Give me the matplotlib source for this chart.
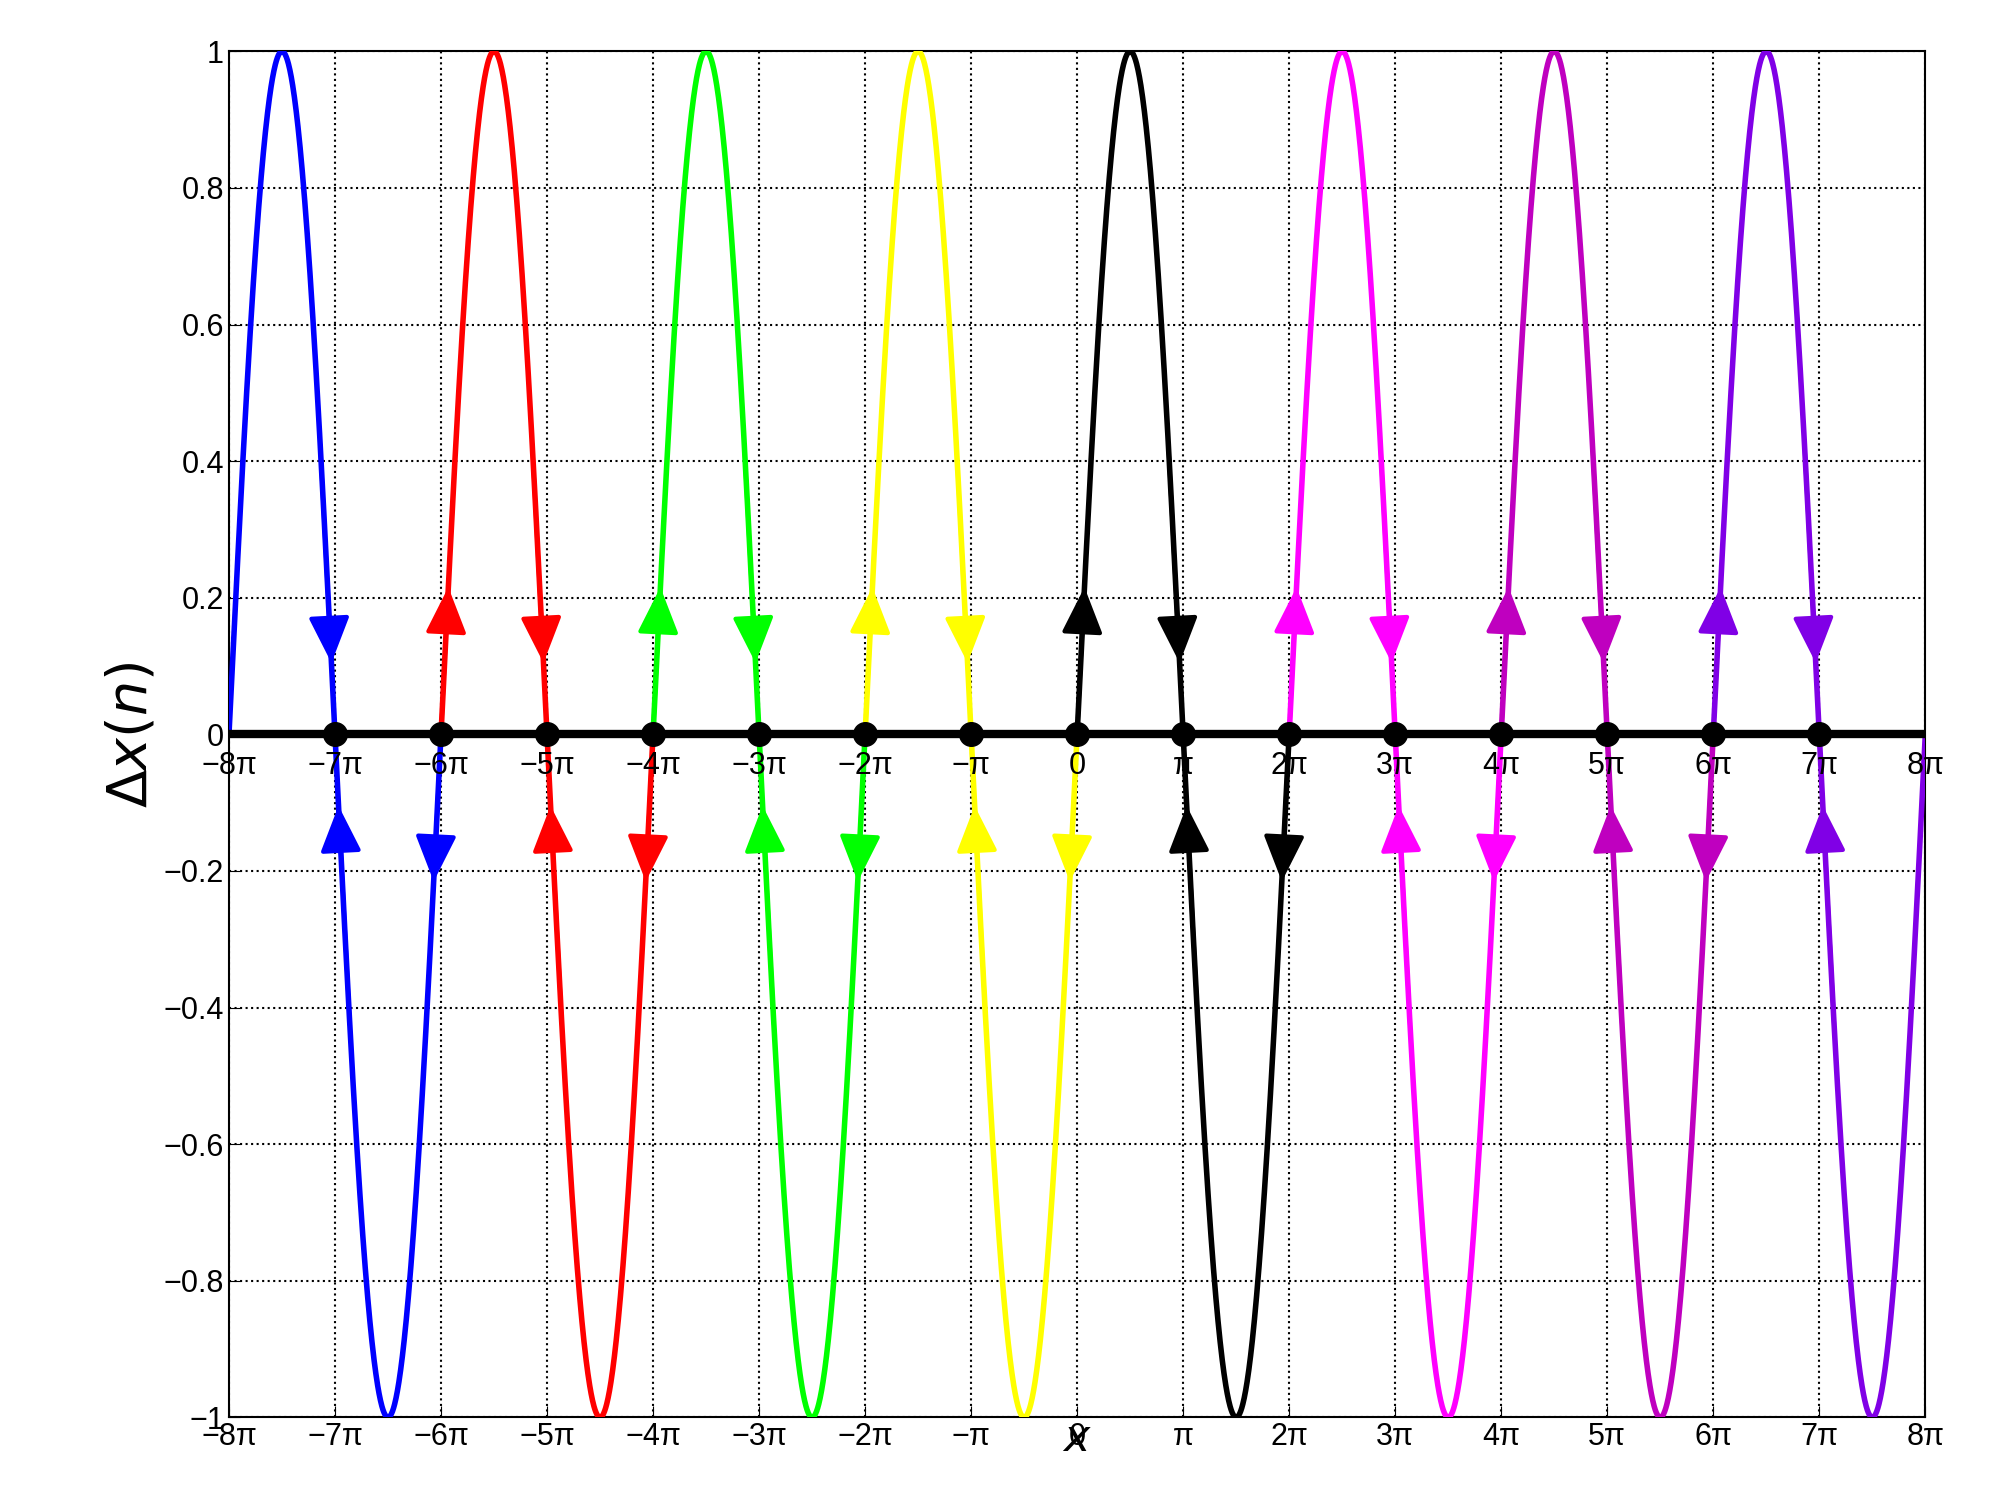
import numpy as np
import matplotlib.pyplot as plt
from matplotlib.patches import FancyArrowPatch

plt.rcParams['font.family'] = ['Liberation Sans', 'DejaVu Sans']

segment_starts = [-8, -6, -4, -2, 0, 2, 4, 6]  # in units of pi, each segment spans 2 pi
colors = ['#0000ff', '#ff0000', '#00ff00', '#ffff00', '#000000', '#ff00ff', '#bf00bf', '#8000e6']
zero_points = list(range(-7, 8))  # multiples of pi
tick_labels = ['\u22128\u03c0', '\u22127\u03c0', '\u22126\u03c0', '\u22125\u03c0', '\u22124\u03c0',
               '\u22123\u03c0', '\u22122\u03c0', '\u2212\u03c0', '0', '\u03c0', '2\u03c0', '3\u03c0',
               '4\u03c0', '5\u03c0', '6\u03c0', '7\u03c0', '8\u03c0']
yticks = [-1, -0.8, -0.6, -0.4, -0.2, 0, 0.2, 0.4, 0.6, 0.8, 1]
ytick_labels = ['\u22121', '\u22120.8', '\u22120.6', '\u22120.4', '\u22120.2', '0', '0.2', '0.4', '0.6', '0.8', '1']

fig = plt.figure(figsize=(19.91, 15.11), dpi=100)
ax = fig.add_axes([0.115, 0.062, 0.852, 0.904])

for s, c in zip(segment_starts, colors):
    x = np.linspace(s * np.pi, (s + 2) * np.pi, 600)
    ax.plot(x, np.sin(x), color=c, lw=4, zorder=3)

def color_at(xv):
    idx = int(np.floor(xv / (2 * np.pi))) + 4
    idx = min(max(idx, 0), 7)
    return colors[idx]

def arrow(x0, x1, c):
    a = FancyArrowPatch((x0, np.sin(x0)), (x1, np.sin(x1)),
                        arrowstyle='-|>,head_length=0.9,head_width=0.4',
                        mutation_scale=32, color=c, lw=3, zorder=4)
    ax.add_patch(a)

d = np.arcsin(0.2)
for k in zero_points:
    z = k * np.pi
    if k % 2 == 0:  # unstable: arrows point away
        arrow(z + 0.02, z + d + 0.02, color_at(z + 0.1))
        arrow(z - 0.02, z - d - 0.02, color_at(z - 0.1))
    else:  # stable: arrows point toward
        arrow(z - 2.2 * d, z - d * 0.5, color_at(z - 0.1))
        arrow(z + 2.2 * d, z + d * 0.5, color_at(z + 0.1))

ax.axhline(0, color='k', lw=6, zorder=5)
ax.plot(np.array(zero_points) * np.pi, np.zeros(len(zero_points)), 'o', color='k',
        markersize=17, zorder=6)

xt = np.arange(-8, 9) * np.pi
ax.set_xlim(-8 * np.pi, 8 * np.pi)
ax.set_ylim(-1, 1)
ax.set_xticks(xt)
ax.set_xticklabels(tick_labels, fontsize=22)
ax.set_yticks(yticks)
ax.set_yticklabels(ytick_labels, fontsize=22)
for xv, lab in zip(xt, tick_labels):
    ax.text(xv, -0.025, lab, ha='center', va='top', fontsize=22, zorder=7)
ax.grid(True, color='k', linestyle=':', lw=1.5)
ax.tick_params(direction='in', length=8)
for sp in ax.spines.values():
    sp.set_linewidth(1.5)
ax.set_ylabel('$\\Delta x(n)$', fontsize=40)
ax.set_xlabel('$x$', fontsize=32, labelpad=-24)

fig.savefig('out.png', dpi=100, facecolor='white')
